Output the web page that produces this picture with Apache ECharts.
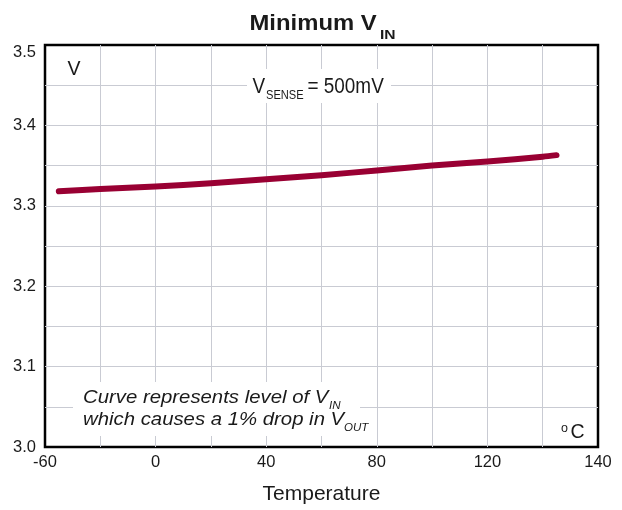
<!DOCTYPE html>
<html><head><meta charset="utf-8">
<script src="https://cdn.jsdelivr.net/npm/echarts@6/dist/echarts.min.js"></script>
<style>html,body{margin:0;padding:0;background:#fff}#c{width:622px;height:510px}</style>
</head><body><div id="c"></div>
<script>
// ---- data ----
const temperature = [-55, -40, -20, 0, 20, 40, 60, 80, 100, 120, 125];
const vinMin = [3.318, 3.321, 3.324, 3.328, 3.333, 3.338, 3.344, 3.350, 3.355, 3.361, 3.363];
const xTickLabels = ['-60', '', '0', '', '40', '', '80', '', '120', '', '140'];
const xMin = -60, xMax = 140, xStep = 20;
const yMin = 3.0, yMax = 3.5, yStep = 0.1;

const FF = "'Liberation Sans', Arial, Helvetica, sans-serif";
const TXT = '#1a1a1a';
const GRID = '#c9cbd3';
const DY = 3;

function txt(x, y, text, font, scaleX, z) {
  return {
    type: 'text', x: x, y: y + DY, scaleX: scaleX || 1, z: z || 10,
    style: { x: 0, y: 0, text: text, font: font, fill: TXT,
      align: 'left', verticalAlign: 'middle', textAlign: 'left', textVerticalAlign: 'middle' }
  };
}

const chart = echarts.init(document.getElementById('c'), null, { renderer: 'canvas' });
chart.setOption({
  backgroundColor: '#fff',
  animation: false,
  grid: { left: 45, right: 24, top: 45, bottom: 60, show: true, borderColor: '#000', borderWidth: 2.5, backgroundColor: 'transparent' },
  xAxis: {
    type: 'value', min: xMin, max: xMax, interval: xStep,
    axisLine: { show: false }, axisTick: { show: false },
    splitLine: { show: true, showMinLine: false, showMaxLine: false, lineStyle: { color: GRID, width: 1 } },
    axisLabel: {
      margin: 7, fontSize: 16.5, color: TXT, fontFamily: FF,
      formatter: function (v) { return xTickLabels[Math.round((v - xMin) / xStep)] || ''; }
    },
    name: 'Temperature', nameLocation: 'middle', nameGap: 37,
    nameTextStyle: { fontSize: 21, color: TXT, fontFamily: FF }
  },
  yAxis: {
    type: 'value', min: yMin, max: yMax, interval: yStep,
    axisLine: { show: false }, axisTick: { show: false },
    minorTick: { show: false, splitNumber: 2 },
    minorSplitLine: { show: true, lineStyle: { color: GRID, width: 1 } },
    splitLine: { show: true, showMinLine: false, showMaxLine: false, lineStyle: { color: GRID, width: 1 } },
    axisLabel: {
      margin: 9, fontSize: 16.5, color: TXT, fontFamily: FF,
      formatter: function (v) {
        const s = v.toFixed(1);
        return Math.abs(v - yMax) < 1e-9 ? '{t|' + s + '}' : s;
      },
      rich: { t: { padding: [15, 0, 0, 0], fontSize: 16.5, color: TXT, fontFamily: FF } }
    }
  },
  series: [{
    type: 'line', data: temperature.map(function (t, i) { return [t, vinMin[i]]; }),
    smooth: 0.3, symbol: 'none', z: 5,
    lineStyle: { color: '#990033', width: 6, cap: 'round', join: 'round' }
  }],
  graphic: [
    // title
    txt(249.5, 20.5, 'Minimum V', "bold 22.5px " + FF, 1.06),
    txt(380, 32.7, 'IN', "bold 12px " + FF, 1.3),
    // y unit
    txt(67.5, 67, 'V', "19.5px " + FF, 1),
    // VSENSE box
    { type: 'rect', z: 8, shape: { x: 247, y: 69, width: 144, height: 34 }, style: { fill: '#fff' } },
    txt(252.5, 84, 'V', "22px " + FF, 0.86),
    txt(266, 92.2, 'SENSE', "12.5px " + FF, 0.89),
    txt(307.5, 84, '= 500mV', "22px " + FF, 0.86),
    // note box
    { type: 'rect', z: 8, shape: { x: 73, y: 382, width: 287, height: 54 }, style: { fill: '#fff' } },
    txt(83, 394.5, 'Curve represents level of V', "italic 18px " + FF, 1.13),
    txt(329, 403, 'IN', "italic 10.5px " + FF, 1.1),
    txt(83, 417, 'which causes a 1% drop in V', "italic 18px " + FF, 1.13),
    txt(344, 425.5, 'OUT', "italic 10.5px " + FF, 1.1),
    // degC
    txt(561, 426, 'o', "12.5px " + FF, 1),
    txt(570.5, 430, 'C', "19.5px " + FF, 1)
  ]
});
</script></body></html>
